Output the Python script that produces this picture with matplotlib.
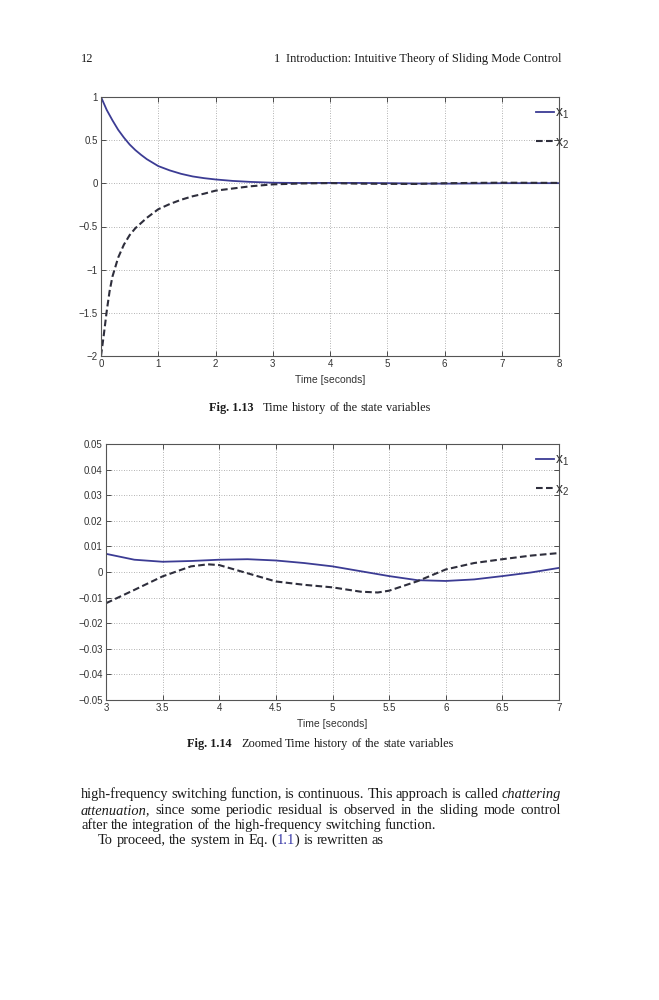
import numpy as np
import matplotlib
matplotlib.use("Agg")
from matplotlib import pyplot as plt

# ---- data ----
# Fig. 1.13, full time history
t_x1 = [0, 0.1, 0.2, 0.3, 0.4, 0.5, 0.6, 0.7, 0.8, 0.9, 1.0, 1.2, 1.4, 1.6,
        1.8, 2.0, 2.3, 2.6, 3.0, 3.5, 4.0, 4.5, 5.0, 5.5, 6.0, 6.5, 7.0, 8.0]
x1_full = [1.0, 0.85, 0.73, 0.62, 0.53, 0.45, 0.385, 0.33, 0.28, 0.24, 0.20,
           0.15, 0.11, 0.08, 0.06, 0.045, 0.028, 0.017, 0.007, 0.004, 0.005,
           0.0045, 0.002, -0.0016, -0.0035, -0.0016, 0.0016, 0.002]
t_x2 = [0, 0.05, 0.1, 0.15, 0.2, 0.25, 0.3, 0.4, 0.5, 0.6, 0.7, 0.8, 0.9, 1.0,
        1.2, 1.4, 1.6, 1.8, 2.0, 2.3, 2.6, 3.0, 3.5, 4.0, 4.5, 5.0, 5.5, 6.0,
        6.5, 7.0, 8.0]
x2_full = [-2.0, -1.75, -1.48, -1.25, -1.08, -0.97, -0.86, -0.71, -0.60, -0.52,
           -0.46, -0.40, -0.35, -0.30, -0.24, -0.19, -0.15, -0.12, -0.085,
           -0.06, -0.035, -0.012, -0.0017, 0.0027, -0.0037, -0.006, -0.0073,
           0.001, 0.005, 0.0074, 0.005]

# Fig. 1.14, zoom on 3..7 s
tz_x1 = [3, 3.25, 3.5, 3.75, 4, 4.25, 4.5, 4.75, 5, 5.25, 5.5, 5.75, 6, 6.25,
         6.5, 6.75, 7]
x1_zoom = [0.0071, 0.0048, 0.0040, 0.0043, 0.0048, 0.0050, 0.0045, 0.0035,
           0.0022, 0.0003, -0.0016, -0.0032, -0.0035, -0.0029, -0.0016,
           -0.0002, 0.0016]
tz_x2 = [3, 3.25, 3.5, 3.75, 3.9, 4, 4.25, 4.5, 4.75, 5, 5.25, 5.4, 5.5, 5.75,
         6, 6.25, 6.5, 6.75, 7]
x2_zoom = [-0.0122, -0.0070, -0.0017, 0.0022, 0.0030, 0.0027, -0.0005,
           -0.0037, -0.0050, -0.0060, -0.0077, -0.0080, -0.0073, -0.0036,
           0.0010, 0.0035, 0.0050, 0.0064, 0.0074]

xticks_full = [0, 1, 2, 3, 4, 5, 6, 7, 8]
yticks_full = [-2, -1.5, -1, -0.5, 0, 0.5, 1]
xticks_zoom = [3, 3.5, 4, 4.5, 5, 5.5, 6, 6.5, 7]
yticks_zoom = [-0.05, -0.04, -0.03, -0.02, -0.01, 0, 0.01, 0.02, 0.03, 0.04, 0.05]

# page text
header_left = "12"
header_chapter = "1"
header_title = "Introduction: Intuitive Theory of Sliding Mode Control"
cap13 = ("Fig. 1.13", "Time history of the state variables")
cap14 = ("Fig. 1.14", "Zoomed Time history of the state variables")
body_lines = [
    "high-frequency switching function, is continuous. This approach is called chattering",
    "attenuation, since some periodic residual is observed in the sliding mode control",
    "after the integration of the high-frequency switching function.",
    "To proceed, the system in Eq. (1.1) is rewritten as",
]
italic_words = ["chattering", "attenuation"]

X1_COLOR = "#3c3c94"
X2_COLOR = "#2e2e3c"
TEXT_COLOR = "#1a1a1a"
AX_FONT = "Liberation Sans"
PAGE_FONT = "Liberation Serif"

W, H = 659, 1000
fig = plt.figure(figsize=(W / 100, H / 100), dpi=100)
fig.patch.set_facecolor("white")


def fmt(v):
    return ("%g" % v).replace("-", "\u2212")


def style_axes(ax, xt, yt, xlim, ylim):
    ax.set_xlim(*xlim)
    ax.set_ylim(*ylim)
    ax.set_xticks(xt)
    ax.set_yticks(yt)
    ax.set_xticklabels([fmt(v) for v in xt], fontfamily=AX_FONT, fontsize=7)
    ax.set_yticklabels([fmt(v) for v in yt], fontfamily=AX_FONT, fontsize=7)
    ax.tick_params(direction="in", length=3.5, width=0.6, top=True,
                   right=True, pad=2.5, colors="#333333")
    for sp in ax.spines.values():
        sp.set_linewidth(0.8)
        sp.set_color("#555555")
    ax.grid(True, linestyle=(0, (1, 2)), color="#9a9a9a", linewidth=0.6)
    ax.set_xlabel("Time [seconds]", fontfamily=AX_FONT, fontsize=7.5,
                  labelpad=4, color="#333333")
    bb = ax.get_position()
    dx = 10 / (bb.width * W)
    dy = 9 / (bb.height * H)
    leg = ax.legend(loc="upper right", bbox_to_anchor=(1 + dx, 1 - dy),
                    frameon=False, handlelength=1.25, handletextpad=0.1,
                    labelspacing=1.0, borderaxespad=0.0, borderpad=0.0,
                    prop={"family": AX_FONT, "size": 10})
    for txt in leg.get_texts():
        txt.set_color("#333333")


# top chart
ax1 = fig.add_axes([101 / W, 1 - 356 / H, 458 / W, 259 / H])
ax1.plot(t_x1, x1_full, color=X1_COLOR, lw=1.3, label=r"$\mathregular{x_1}$")
ax1.plot(t_x2, x2_full, color=X2_COLOR, lw=1.5, ls=(0, (3.2, 1.6)),
         label=r"$\mathregular{x_2}$")
style_axes(ax1, xticks_full, yticks_full, (0, 8), (-2, 1))

# bottom chart
ax2 = fig.add_axes([106 / W, 1 - 700 / H, 453 / W, 256 / H])
ax2.plot(tz_x1, x1_zoom, color=X1_COLOR, lw=1.3, label=r"$\mathregular{x_1}$")
ax2.plot(tz_x2, x2_zoom, color=X2_COLOR, lw=1.5, ls=(0, (3.2, 1.6)),
         label=r"$\mathregular{x_2}$")
style_axes(ax2, xticks_zoom, yticks_zoom, (3, 7), (-0.05, 0.05))

# ---- page text, placed word by word in page pixels ----
renderer = fig.canvas.get_renderer()


def width_of(s, size, **kw):
    t = fig.text(0, 0, s, fontfamily=PAGE_FONT, fontsize=size, **kw)
    w = t.get_window_extent(renderer).width
    t.remove()
    return w


def page_text(x, y, s, size, **kw):
    kw.setdefault("color", TEXT_COLOR)
    return fig.text(x / W, 1 - y / H, s, fontfamily=PAGE_FONT, fontsize=size,
                    va="baseline", **kw)


def word_style(wd):
    return {"fontstyle": "italic"} if wd.strip(",.") in italic_words else {}


def put_words(x0, y, line, size, right=None):
    wds = line.split(" ")
    styles = [word_style(w) for w in wds]
    widths = [width_of(w, size, **st) for w, st in zip(wds, styles)]
    space = width_of("a b", size) - width_of("ab", size)
    gap = space if right is None else (right - x0 - sum(widths)) / (len(wds) - 1)
    x = x0
    for wd, st, w in zip(wds, styles, widths):
        if wd == "(1.1)":
            for part, col in (("(", TEXT_COLOR), ("1.1", "#3a3aa8"),
                              (")", TEXT_COLOR)):
                page_text(x, y, part, size, color=col)
                x += width_of(part, size)
            x += gap
            continue
        page_text(x, y, wd, size, **st)
        x += w + gap


def caption(xc, y, cap, size):
    bold, rest = cap
    wb = width_of(bold, size, fontweight="bold")
    gap = 9
    wr = width_of(rest, size)
    x = xc - (wb + gap + wr) / 2
    page_text(x, y, bold, size, fontweight="bold")
    put_words(x + wb + gap, y, rest, size)


# header
HEAD = 8.9
page_text(81, 62, header_left, HEAD)
page_text(274, 62, header_chapter, HEAD)
page_text(561, 62, header_title, HEAD, ha="right")

# captions
CAP = 8.8
caption(320, 411, cap13, CAP)
caption(320, 747, cap14, CAP)

# body text
BODY = 10.4
put_words(81, 798, body_lines[0], BODY, right=561)
put_words(81, 814, body_lines[1], BODY, right=561)
put_words(81, 829, body_lines[2], BODY)
put_words(98, 844, body_lines[3], BODY)

fig.savefig("out.png", dpi=100)
